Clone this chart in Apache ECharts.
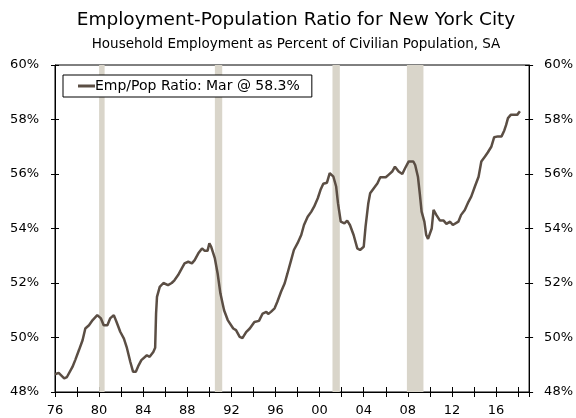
<!DOCTYPE html>
<html>
<head>
<meta charset="utf-8">
<script src="https://cdn.jsdelivr.net/npm/echarts@6/dist/echarts.min.js"></script>
<style>
  html, body { margin: 0; padding: 0; background: #fff; }
  #main { width: 576px; height: 418px; }
</style>
</head>
<body>
<div id="main"></div>
<script>
// months (YYYY-MM) and the ratio at each, in %
const months = [
  '1976-01', '1976-05', '1976-11', '1977-02', '1977-08', '1977-11', '1978-03', '1978-07', '1978-10',
  '1979-02', '1979-06', '1979-11', '1980-03', '1980-06', '1980-10', '1981-01', '1981-05', '1981-08',
  '1981-12', '1982-04', '1982-07', '1982-11', '1983-02', '1983-05', '1983-08', '1983-11', '1984-05',
  '1984-08', '1984-12', '1985-02', '1985-03', '1985-04', '1985-07', '1985-11', '1986-04', '1986-08',
  '1986-11', '1987-03', '1987-07', '1987-10', '1988-02', '1988-06', '1988-09', '1989-01', '1989-05',
  '1989-08', '1989-11', '1990-01', '1990-03', '1990-07', '1990-10', '1991-01', '1991-05', '1991-09',
  '1992-03', '1992-06', '1992-10', '1993-01', '1993-05', '1993-09', '1994-02', '1994-07', '1994-11',
  '1995-03', '1995-05', '1995-08', '1995-12', '1996-03', '1996-07', '1996-11', '1997-02', '1997-06',
  '1997-09', '1998-01', '1998-05', '1998-08', '1998-12', '1999-04', '1999-07', '1999-11', '2000-02',
  '2000-05', '2000-09', '2000-12', '2001-01', '2001-04', '2001-07', '2001-09', '2001-12', '2002-04',
  '2002-07', '2002-10', '2003-02', '2003-06', '2003-09', '2004-01', '2004-03', '2004-06', '2004-08',
  '2004-12', '2005-04', '2005-07', '2006-01', '2006-04', '2006-08', '2006-11', '2007-03', '2007-07',
  '2007-10', '2008-02', '2008-07', '2008-09', '2008-12', '2009-02', '2009-04', '2009-07', '2009-09',
  '2009-11', '2010-01', '2010-03', '2010-05', '2010-08', '2010-12', '2011-04', '2011-07', '2011-11',
  '2012-02', '2012-04', '2012-08', '2012-11', '2013-03', '2013-07', '2013-10', '2014-02', '2014-06',
  '2014-09', '2015-01', '2015-04', '2015-08', '2015-11', '2016-03', '2016-07', '2016-10', '2016-12',
  '2017-02', '2017-05', '2017-09', '2017-12', '2018-03'
];
const ratio = [
  48.65, 48.70, 48.50, 48.55, 48.92, 49.17, 49.53, 49.90, 50.33,
  50.45, 50.64, 50.82, 50.70, 50.45, 50.45, 50.70, 50.82, 50.57,
  50.21, 49.96, 49.65, 49.10, 48.74, 48.74, 48.98, 49.17, 49.35,
  49.29, 49.47, 49.62, 50.88, 51.49, 51.86, 52.00, 51.92, 52.00,
  52.10, 52.29, 52.54, 52.72, 52.78, 52.72, 52.84, 53.09, 53.27,
  53.18, 53.18, 53.46, 53.33, 52.90, 52.35, 51.62, 51.00, 50.64,
  50.33, 50.27, 50.02, 49.98, 50.20, 50.33, 50.57, 50.61, 50.88,
  50.94, 50.86, 50.94, 51.07, 51.31, 51.68, 51.99, 52.35, 52.84,
  53.21, 53.46, 53.76, 54.13, 54.43, 54.62, 54.80, 55.11, 55.42,
  55.64, 55.68, 56.03, 56.09, 55.90, 55.54, 54.93, 54.25, 54.19,
  54.29, 54.13, 53.76, 53.27, 53.21, 53.33, 54.07, 54.93, 55.29,
  55.48, 55.66, 55.88, 55.88, 55.97, 56.09, 56.27, 56.09, 56.00,
  56.21, 56.46, 56.46, 56.33, 55.90, 55.29, 54.62, 54.25, 53.76,
  53.62, 53.64, 54.00, 54.68, 54.50, 54.29, 54.29, 54.17, 54.25,
  54.13, 54.07, 54.25, 54.50, 54.68, 54.98, 55.17, 55.54, 55.90,
  56.46, 56.64, 56.79, 57.01, 57.35, 57.38, 57.38, 57.60, 57.80,
  58.05, 58.17, 58.17, 58.17, 58.30
];
// recession periods (shaded)
const recessions = [
  ['1980-01', '1980-07'],
  ['1990-07', '1991-03'],
  ['2001-03', '2001-11'],
  ['2007-12', '2009-06']
];
const yTicks = [48, 50, 52, 54, 56, 58, 60];
const seriesName = 'Emp/Pop Ratio: Mar @ 58.3%';

function toYear(m) {
  const [y, mo] = m.split('-').map(Number);
  return y + (mo - 1) / 12;
}

const font = 'DejaVu Sans';
const lineColor = '#5b4e44';
const shade = '#d9d5ca';

const xBase = {
  type: 'value',
  min: 1976,
  max: 2019,
  interval: 2,
  splitLine: { show: false }
};
const yBase = {
  type: 'value',
  min: yTicks[0],
  max: yTicks[yTicks.length - 1],
  interval: 2,
  splitLine: { show: false }
};

const myChart = echarts.init(document.getElementById('main'));

const option = {
  animation: false,
  title: [
    {
      text: 'Employment-Population Ratio for New York City',
      left: 291,
      top: 6,
      textAlign: 'center',
      textStyle: { fontFamily: font, fontSize: 18.5, fontWeight: 'normal', color: '#000' }
    },
    {
      text: 'Household Employment as Percent of Civilian Population, SA',
      left: 291,
      top: 32,
      textAlign: 'center',
      textStyle: { fontFamily: font, fontSize: 13.5, fontWeight: 'normal', color: '#000' }
    }
  ],
  legend: {
    data: [seriesName],
    left: 63,
    top: 75,
    icon: 'rect',
    itemWidth: 17,
    itemHeight: 3,
    padding: [4, 12, 4, 15],
    borderColor: '#000',
    borderWidth: 1,
    backgroundColor: '#fff',
    textStyle: { fontFamily: font, fontSize: 14, color: '#000', padding: [0, 0, 0, -5] }
  },
  grid: {
    left: 55,
    right: 44,
    top: 65,
    bottom: 26,
    show: true,
    borderColor: '#000',
    borderWidth: 1
  },
  xAxis: [
    Object.assign({}, xBase, {
      axisLine: { lineStyle: { color: '#000', width: 1 } },
      axisTick: { length: 5, lineStyle: { color: '#000' } },
      axisLabel: {
        interval: 0,
        margin: 12,
        fontFamily: font,
        fontSize: 13,
        color: '#000',
        formatter: v => (v % 4 === 0 && v < 2019 ? String(v).slice(2) : '')
      }
    }),
    Object.assign({}, xBase, {
      position: 'bottom',
      axisLine: { show: false },
      axisTick: { inside: true, length: 5, lineStyle: { color: '#000' } },
      axisLabel: { show: false }
    })
  ],
  yAxis: [
    Object.assign({}, yBase, {
      position: 'left',
      axisLine: { show: true, lineStyle: { color: '#000' } },
      axisTick: { show: true, length: 4, lineStyle: { color: '#000' } },
      axisLabel: { margin: 16, fontFamily: font, fontSize: 13, color: '#000', formatter: '{value}%' }
    }),
    Object.assign({}, yBase, {
      position: 'right',
      axisLine: { show: true, lineStyle: { color: '#000' } },
      axisTick: { show: true, length: 4, lineStyle: { color: '#000' } },
      axisLabel: { margin: 15, fontFamily: font, fontSize: 13, color: '#000', formatter: '{value}%' }
    }),
    Object.assign({}, yBase, {
      position: 'left',
      axisLine: { show: false },
      axisTick: { show: true, inside: true, length: 4, lineStyle: { color: '#000' } },
      axisLabel: { show: false }
    }),
    Object.assign({}, yBase, {
      position: 'right',
      axisLine: { show: false },
      axisTick: { show: true, inside: true, length: 4, lineStyle: { color: '#000' } },
      axisLabel: { show: false }
    })
  ],
  series: [
    {
      name: seriesName,
      type: 'line',
      xAxisIndex: 0,
      yAxisIndex: 0,
      symbol: 'none',
      lineStyle: { color: lineColor, width: 2.5 },
      itemStyle: { color: lineColor },
      data: months.map((m, i) => [toYear(m), ratio[i]]),
      markArea: {
        silent: true,
        itemStyle: { color: shade },
        data: recessions.map(r => [{ xAxis: toYear(r[0]) }, { xAxis: toYear(r[1]) }])
      },
      z: 3
    }
  ]
};

myChart.setOption(option);
</script>
</body>
</html>
